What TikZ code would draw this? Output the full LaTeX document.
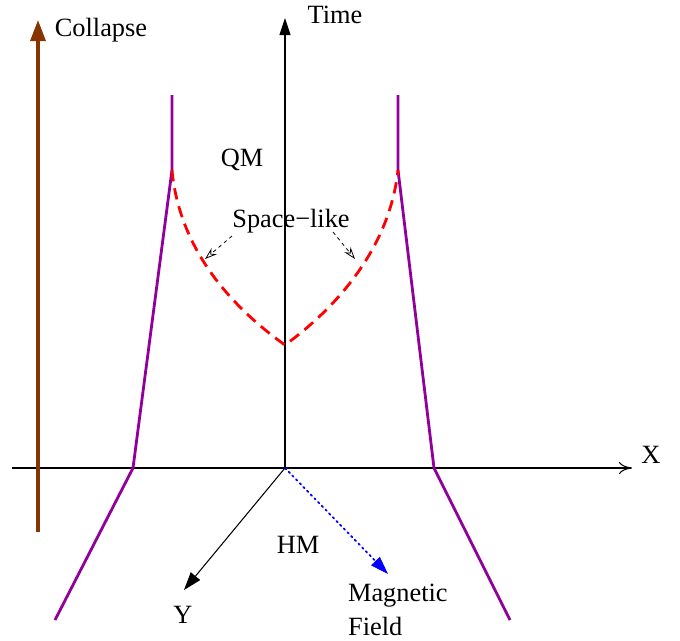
\documentclass[tikz,border=0pt]{standalone}
\usepackage{fontspec}
\setmainfont{Liberation Serif}
\usetikzlibrary{arrows.meta, positioning, calc}
\definecolor{collapsebrown}{RGB}{135,52,0}
\definecolor{wallpurple}{RGB}{145,0,155}
\tikzset{
  axis/.style={line width=0.6pt},
  wall/.style={wallpurple, line width=1.6pt},
  spacelike/.style={red, line width=1.6pt, dash pattern=on 6.5pt off 4pt},
  pointer/.style={line width=0.45pt, dash pattern=on 2pt off 2pt, -{Stealth[open, length=2.4mm, width=1.6mm]}},
  lbl/.style={inner sep=1pt, font=\fontsize{15}{19}\selectfont},
}

\begin{document}
\begin{tikzpicture}[x=0.02cm, y=-0.02cm]
  \useasboundingbox (0,0) rectangle (680,640);

  % ----- reference points ---------------------------------------------------
  \coordinate (o)    at (285,468);   % origin
  \coordinate (xl)   at (12,468);
  \coordinate (xr)   at (632,468);
  \coordinate (tt)   at (285,18);
  \coordinate (ye)   at (184,590);
  \coordinate (be)   at (388,574);
  \coordinate (cb)   at (38,532);
  \coordinate (ct)   at (38,20);

  \coordinate (lt)   at (172,95);    % left wall
  \coordinate (lk)   at (172,170);
  \coordinate (lx)   at (133,468);
  \coordinate (lb)   at (55,620);
  \coordinate (rt)   at (398,95);    % right wall
  \coordinate (rk)   at (398,170);
  \coordinate (rx)   at (434,468);
  \coordinate (rb)   at (510,620);
  \coordinate (sb)   at (285,345);   % bottom of space-like curve
  \coordinate (pl)   at (205,259);   % pointer tips
  \coordinate (pr)   at (355,259);
  \coordinate (ql)   at (232,236);   % pointer tails
  \coordinate (qr)   at (333,232);

  % ----- labels -------------------------------------------------------------
  \node[lbl] (collapse) at (101,30)  {Collapse};
  \node[lbl] (time)     at (335,15)  {Time};
  \node[lbl] (xlab)     at (651,455) {X};
  \node[lbl] (ylab)     at (183,615) {Y};
  \node[lbl] (qm)       at (242,160) {QM};
  \node[lbl] (hm)       at (298,545) {HM};
  \node[lbl] (space)    at (291,221) {Space−like};
  \node[lbl, align=left, anchor=west] (mag) at (346,610) {Magnetic\\Field};

  % ----- axes ---------------------------------------------------------------
  \draw[axis, -{To[length=2.6mm, width=2.4mm]}] (xl) -- (xr);
  \draw[axis, -{Triangle[length=3.4mm, width=2.2mm]}] (o) -- (tt);
  \draw[axis, -{Triangle[length=3.6mm, width=2.4mm]}] (o) -- (ye);
  \draw[blue, line width=1pt, dotted, line cap=round] (o) -- ($(be)!3mm!(o)$);
  \draw[blue, -{Triangle[length=3.6mm, width=2.4mm]}] ($(be)!3mm!(o)$) -- (be);
  \draw[collapsebrown, line width=1.8pt, -{Triangle[length=4.2mm, width=3mm]}] (cb) -- (ct);

  % ----- walls --------------------------------------------------------------
  \draw[wall] (lt) -- (lk) -- (lx) -- (lb);
  \draw[wall] (rt) -- (rk) -- (rx) -- (rb);

  % ----- space-like curve ---------------------------------------------------
  \draw[spacelike] (lk) .. controls (178,235) and (215,295) .. (sb)
                        .. controls (340,305) and (390,245) .. (rk);
  \draw[pointer] (ql) -- (pl);
  \draw[pointer] (qr) -- (pr);

\end{tikzpicture}
\end{document}
